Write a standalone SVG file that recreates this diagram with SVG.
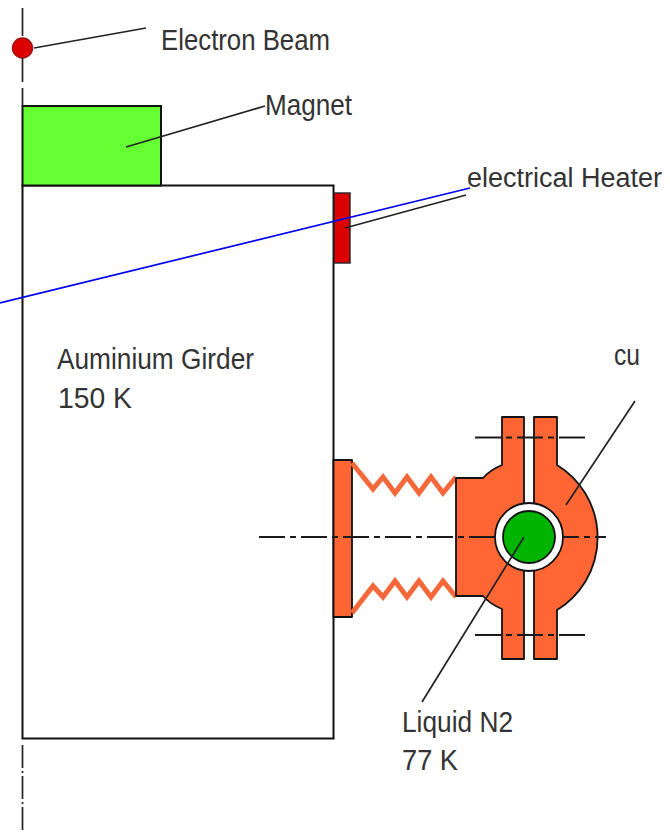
<svg xmlns="http://www.w3.org/2000/svg" width="670" height="832" viewBox="0 0 670 832">
<style>
.o{fill:#ff6633;stroke:#111;stroke-width:1.8;stroke-linejoin:round}
.z{fill:none;stroke:#f4683a;stroke-width:5;stroke-linejoin:miter}
.l{stroke:#222;stroke-width:1.7;fill:none}
.c{stroke:#1a1a1a;stroke-width:2;fill:none;stroke-dasharray:26 5 6 5}
.t{font-family:"Liberation Sans",Arial,sans-serif;font-size:29px;fill:#333}
</style>
<rect width="670" height="832" fill="#fff"/>
<g id="girder"><rect x="22.500" y="185.500" width="311" height="553" fill="#fff" stroke="#111" stroke-width="2"/></g>
<g id="magnet"><rect x="22.500" y="106" width="138.500" height="79.500" fill="#66ff33" stroke="#111" stroke-width="2"/></g>
<g id="heater"><rect x="334" y="193" width="16" height="70" fill="#dd0000" stroke="#222" stroke-width="1.400"/></g>
<g id="flange"><rect x="333.500" y="460" width="18.500" height="157" class="o"/></g>
<g id="bellows">
<polyline class="z" points="352,463 373,489 383,477 395,493 407,477 419,493 431,477 443,493 456,477"/>
<polyline class="z" points="352,613 373,586 383,597 395,581 407,597 419,581 431,597 443,581 456,597"/>
</g>
<g id="clamp-left"><path class="o" d="M456 478H483Q490 470 502 465V417H524V506H534V568H524V659H502V609Q490 604 483 596H456Z"/></g>
<g id="clamp-right"><path class="o" d="M534 417H557V465A85 85 0 0 1 557 610V659H534Z"/></g>
<g id="connectors-center">
<path class="c" d="M259 537H606M475 437.500H588M475 635H588"/>
</g>
<g id="pipe">
<circle cx="529" cy="537" r="34" fill="#fff" stroke="#111" stroke-width="1.800"/>
<circle cx="529" cy="537" r="26" fill="#00b400" stroke="#111" stroke-width="1.800"/>
</g>
<g id="beam"><circle cx="22.500" cy="48" r="10" fill="#dd0000" stroke="#911" stroke-width="1.400"/></g>
<g id="connectors">
<path class="l" d="M22.500 8V36M22.500 58V82M22.500 88V106"/>
<path class="l" stroke-dasharray="23 3 2 3" d="M22.500 745V830"/>
<path class="l" d="M34 48L146 28M126 147L265 106M345 228L466 195M635 401L566 505M524 537L422 702"/>
<path stroke="#0000ee" stroke-width="1.700" fill="none" d="M0 303L470 188"/>
</g>
<g id="labels">
<text class="t" x="161" y="50" textLength="169" lengthAdjust="spacingAndGlyphs">Electron Beam</text>
<text class="t" x="265" y="115" textLength="87" lengthAdjust="spacingAndGlyphs">Magnet</text>
<text class="t" x="467" y="187" textLength="195" lengthAdjust="spacingAndGlyphs" style="font-size:27px">electrical Heater</text>
<text class="t" x="614" y="365" textLength="26" lengthAdjust="spacingAndGlyphs">cu</text>
<text class="t" x="57" y="369" textLength="197" lengthAdjust="spacingAndGlyphs">Auminium Girder</text>
<text class="t" x="58" y="408" textLength="74" lengthAdjust="spacingAndGlyphs">150 K</text>
<text class="t" x="402" y="732" textLength="111" lengthAdjust="spacingAndGlyphs">Liquid N2</text>
<text class="t" x="402" y="770" textLength="56" lengthAdjust="spacingAndGlyphs">77 K</text>
</g>
</svg>
